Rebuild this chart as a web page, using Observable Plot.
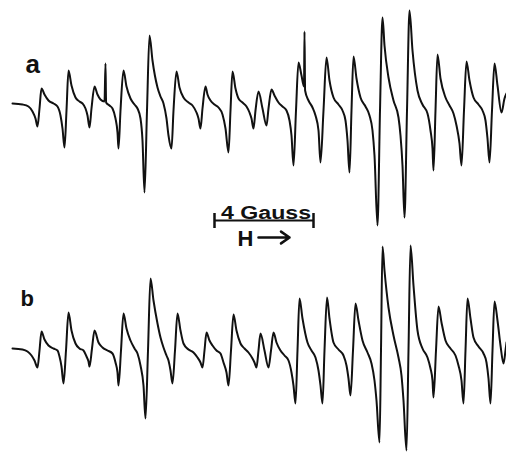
<!DOCTYPE html>
<html>
<head>
<meta charset="utf-8">
<script src="https://cdn.jsdelivr.net/npm/d3@7"></script>
<script src="https://cdn.jsdelivr.net/npm/@observablehq/plot@0.6"></script>
<style>
  html, body { margin: 0; padding: 0; background: #fff; }
  #chart { width: 506px; height: 452px; }
  svg { display: block; }
</style>
</head>
<body>
<div id="chart"></div>
<script>
// Spectrum a: [field position (chart units), signal deflection]
const traceA = [[12,0],[22,-1],[28,-3],[32,-8],[35,-15],[37,-23],[39,-5],[41,15],[44,9],[48,3],[53,0],[57,-3],[60,-12],[62,-25],[64,-44],[66,-7],[68,33],[71,18],[75,6],[79,2],[82,0],[85,-5],[87,-12],[89,-24],[91,-5],[94,17],[97,9],[100,4],[104,2],[105,40],[105.6,1],[109,-2],[112,-5],[115,-15],[117,-29],[118,-45],[120,-7],[123,33],[126,17],[130,5],[134,-1],[137,-5],[140,-15],[142,-37],[144,-89],[146.5,-7],[149,68],[152,43],[157,16],[160,7],[163,0],[166,-15],[168,-32],[171,-45],[173,-7],[176,32],[179,16],[183,6],[188,1],[192,-2],[196,-9],[198,-15],[200,-25],[202,-5],[205,17],[207,9],[210,3],[214,-1],[218,-4],[222,-11],[225,-25],[228,-49],[230,-7],[232,32],[235,15],[238,5],[242,1],[246,-3],[249,-9],[251,-15],[253,-25],[255,-7],[258,12],[262,-5],[266,-22],[268,-5],[271,14],[274,8],[278,1],[282,-3],[286,-7],[289,-17],[291,-32],[293,-62],[295.5,-7],[298,41],[301,28],[303.5,17],[304,72],[304.6,13],[308,3],[312,-4],[315,-12],[318,-27],[320,-59],[323,-7],[326,46],[329,23],[333,6],[338,-1],[342,-7],[345,-17],[347,-37],[349,-69],[351,-7],[353,47],[356,25],[360,6],[365,-3],[369,-12],[372,-27],[374,-52],[377,-122],[379.5,-7],[382,86],[384,58],[388,26],[393,3],[398,-14],[400,-32],[402,-62],[404,-114],[406.5,-7],[409,93],[412,53],[417,13],[422,-1],[427,-10],[430,-27],[432,-45],[433,-67],[435,-7],[437,49],[440,25],[445,6],[449,-2],[453,-10],[456,-22],[459,-40],[461,-62],[463.5,-7],[466,42],[469,23],[473,6],[478,-1],[482,-7],[485,-17],[487,-35],[489,-59],[491.5,-7],[494,40],[497,18],[501,-9],[504,5],[506,10]];

// Spectrum b: [field position (chart units), signal deflection]
const traceB = [[12,0],[22,-1],[27,-3],[31,-7],[34,-12],[37,-19],[39,-2],[41,17],[44,9],[48,3],[53,0],[57,-2],[59,-8],[61,-18],[63,-35],[65.5,-2],[68,36],[71,18],[75,5],[79,0],[83,-2],[86,-8],[88,-13],[89,-18],[91.5,0],[94,18],[98,6],[102,1],[107,-2],[112,-5],[115,-14],[117,-24],[118,-37],[120.5,-2],[123,35],[126,20],[130,8],[134,0],[137,-5],[140,-17],[143,-37],[145,-70],[147.5,-2],[150,70],[153,48],[157,25],[160,11],[163,1],[166,-7],[168,-12],[170,-22],[172,-35],[174.5,-2],[177,35],[180,18],[183,5],[188,-1],[193,-4],[197,-9],[200,-14],[202,-19],[204,-2],[206,16],[209,8],[212,3],[216,-2],[220,-5],[223,-14],[226,-24],[228,-37],[230.5,-2],[233,34],[236,18],[240,5],[244,0],[248,-4],[252,-10],[254,-14],[256,-19],[258,-2],[260,15],[264,-2],[268,-19],[270.5,-2],[273,16],[276,6],[280,-2],[284,-7],[288,-12],[291,-24],[293,-37],[295,-55],[297,-2],[299,50],[302,30],[307,6],[311,-2],[315,-9],[318,-22],[320,-37],[322,-55],[324,-2],[326.5,51],[329,30],[333,6],[338,-1],[343,-7],[346,-17],[348,-30],[350,-47],[352.5,-2],[355,45],[358,28],[362,8],[367,-4],[371,-15],[374,-32],[376,-52],[379,-94],[380.5,-2],[382,102],[384,78],[388,41],[393,13],[398,-9],[401,-27],[403,-52],[406,-102],[408,-2],[410,103],[413,63],[417,18],[422,0],[427,-9],[430,-20],[432,-32],[433,-49],[435.5,-2],[438,42],[441,26],[445,8],[450,0],[455,-7],[458,-17],[461,-32],[463,-55],[465,-2],[467,50],[470,30],[473,11],[478,2],[483,-5],[486,-14],[488,-30],[490,-55],[492,-2],[494,47],[497,28],[500,3],[503,-15],[505,-2],[506,6]];

const spectrumLabels = ["a", "b"];
const scaleBarText = "4 Gauss";
const scaleBarGauss = 4;
const fieldText = "H";

// layout (chart units)
const unitsPerGauss = 24.75;
const scaleBarStart = 214;
const traceOffset = {a: 0, b: -245};

const rows = [
  ...traceA.map(([field, signal]) => ({spectrum: "a", field, signal})),
  ...traceB.map(([field, signal]) => ({spectrum: "b", field, signal}))
];

const labelRows = [
  {label: spectrumLabels[0], x: 25, y: 31},
  {label: spectrumLabels[1], x: 20, y: 43 + traceOffset.b}
];
const barEnd = scaleBarStart + scaleBarGauss * unitsPerGauss;

const font = "'Liberation Sans', Arial, sans-serif";

const plot = Plot.plot({
  width: 506,
  height: 452,
  marginTop: 0, marginRight: 0, marginBottom: 0, marginLeft: 0,
  x: {domain: [0, 506], axis: null},
  y: {domain: [-349, 103], axis: null},
  style: {background: "#fff", fontFamily: font},
  marks: [
    Plot.line(rows, {
      x: "field",
      y: d => d.signal + traceOffset[d.spectrum],
      z: "spectrum",
      stroke: "#111",
      strokeWidth: 2,
      curve: "monotone-x",
      strokeLinejoin: "round"
    }),
    Plot.text(labelRows.slice(0,1), {x: "x", y: "y", text: "label", textAnchor: "start", lineAnchor: "bottom", fontSize: 26, fontWeight: "bold", fill: "#111"}),
    Plot.text(labelRows.slice(1), {x: "x", y: "y", text: "label", textAnchor: "start", lineAnchor: "bottom", fontSize: 22, fontWeight: "bold", fill: "#111"}),
    // scale bar
    Plot.ruleY([{y: -117}], {y: "y", x1: () => scaleBarStart, x2: () => barEnd, stroke: "#111", strokeWidth: 2}),
    Plot.ruleX([scaleBarStart, barEnd], {x: d => d, y1: () => -110, y2: () => -125, stroke: "#111", strokeWidth: 2.5}),
    Plot.text([scaleBarText], {x: () => (scaleBarStart + barEnd) / 2 + 2, y: () => -115, text: d => d, lineAnchor: "bottom", fontSize: 18, fontWeight: "bold", fill: "#111", className: "gauss-label"}),
    Plot.text([fieldText], {x: () => 237, y: () => -142, text: d => d, textAnchor: "start", lineAnchor: "bottom", fontSize: 22, fontWeight: 600, fill: "#111"}),
    Plot.arrow([{x1: 258, x2: 289, y: -134}], {x1: "x1", x2: "x2", y1: "y", y2: "y", stroke: "#111", strokeWidth: 2.6, headLength: 9, headAngle: 70})
  ]
});

document.getElementById("chart").appendChild(plot);
d3.select(plot).selectAll(".gauss-label text")
  .attr("textLength", 90)
  .attr("lengthAdjust", "spacingAndGlyphs");
</script>
</body>
</html>
